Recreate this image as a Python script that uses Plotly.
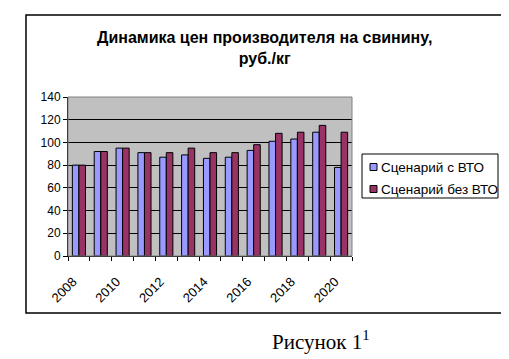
import plotly.graph_objects as go

years = list(range(2008, 2021))
with_wto = [80, 92, 95, 91, 87, 89, 86, 87, 93, 101, 103, 109, 78]
without_wto = [80, 92, 95, 91, 91, 95, 91, 91, 98, 108, 109, 115, 109]
tick_years = [2008, 2010, 2012, 2014, 2016, 2018, 2020]
series_names = ["Сценарий с ВТО", "Сценарий без ВТО"]
colors = ["#9999FF", "#993366"]

OFF = 8  # page body margin
W, H = 509 - OFF, 359 - OFF
L, R, T, B = 68 - OFF, 352 - OFF, 97 - OFF, 256 - OFF
pw, ph = R - L, B - T

def px(x):
    return (x - OFF - L) / pw

def py(y):
    return (B - (y - OFF)) / ph

fig = go.Figure()
for name, vals, col in zip(series_names, [with_wto, without_wto], colors):
    fig.add_trace(go.Bar(x=years, y=vals, name=name,
                         marker=dict(color=col, line=dict(color="black", width=1))))

fig.update_layout(
    width=W, height=H,
    margin=dict(l=L, r=W - R, t=T, b=H - B, autoexpand=False),
    paper_bgcolor="white",
    plot_bgcolor="#C0C0C0",
    barmode="group",
    bargap=0.4,
    bargroupgap=0,
    font=dict(family="Liberation Sans, Arial", size=11, color="black"),
    showlegend=False,
    xaxis=dict(
        range=[2007.5, 2020.5],
        tickvals=tick_years,
        ticktext=[str(y) for y in tick_years],
        tickangle=-45,
        ticks="", showgrid=False, zeroline=False,
        showline=True, linecolor="black", linewidth=1,
        minor=dict(tickvals=[y + 0.5 for y in range(2007, 2021)], ticks="outside",
                   ticklen=4, tickcolor="black", showgrid=False),
        tickfont=dict(size=13),
        ticklabelstandoff=12,
        ticklabelshift=-6,
        automargin=False,
    ),
    yaxis=dict(
        range=[0, 140], dtick=20,
        ticks="outside", ticklen=4, tickcolor="black",
        showgrid=True, gridcolor="black", gridwidth=1,
        zeroline=False,
        showline=True, linecolor="black", linewidth=1,
        tickfont=dict(size=12),
        automargin=False,
    ),
)

# plot area gray border
fig.add_shape(type="rect", xref="paper", yref="paper", x0=0, x1=1, y0=0, y1=1,
              line=dict(color="#808080", width=1), layer="above")
# outer chart frame
fig.add_shape(type="rect", xref="paper", yref="paper",
              x0=px(26), x1=px(502), y0=py(313), y1=py(15),
              line=dict(color="black", width=1.5))

# custom legend
fig.add_shape(type="rect", xref="paper", yref="paper",
              x0=px(362), x1=px(498), y0=py(198), y1=py(154),
              line=dict(color="black", width=1), fillcolor="white")
row_y = [167, 189]
for name, col, ry in zip(series_names, colors, row_y):
    fig.add_shape(type="rect", xref="paper", yref="paper",
                  x0=px(370), x1=px(377), y0=py(ry + 3.5), y1=py(ry - 3.5),
                  line=dict(color="black", width=1), fillcolor=col)
    fig.add_annotation(xref="paper", yref="paper", x=px(379), y=py(ry),
                       xanchor="left", yanchor="middle", showarrow=False,
                       text=name, font=dict(size=13.5, color="black"))

fig.add_annotation(xref="paper", yref="paper", x=px(264), y=py(27),
                   xanchor="center", yanchor="top", showarrow=False,
                   text="<b>Динамика цен производителя на свинину,<br>руб./кг</b>",
                   font=dict(size=16, family="Liberation Sans, Arial", color="black"))

fig.add_annotation(xref="paper", yref="paper", x=px(321), y=py(340),
                   xanchor="center", yanchor="middle", showarrow=False,
                   text="Рисунок 1<sup>1</sup>",
                   font=dict(size=21, family="Liberation Serif, Times New Roman", color="black"))

fig.write_html("out.html")
